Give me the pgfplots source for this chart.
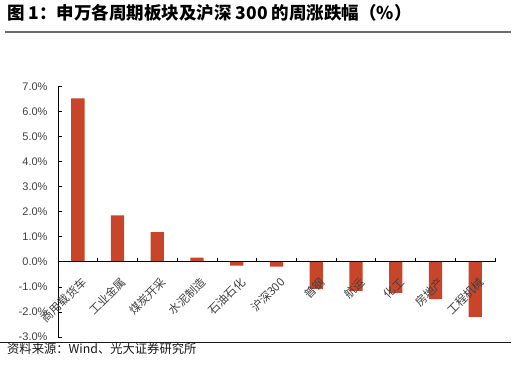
\documentclass[border=0pt]{standalone}
\usepackage{pgfplots}
\pgfplotsset{compat=1.18}
\usepackage{fontspec}
\setmainfont{Liberation Sans}
\newfontfamily\cjk{Noto Sans CJK SC}
\definecolor{barc}{HTML}{C8452A}
\definecolor{lblc}{HTML}{404040}
\tikzset{xlab/.style={xshift=6.5bp, yshift=-18bp, rotate=45, anchor=east, inner sep=0pt, font=\cjk\fontsize{11.5bp}{13bp}\selectfont, color=lblc}}
\begin{document}
\begin{tikzpicture}[x=1bp,y=1bp]
\path[use as bounding box] (0,0) rectangle (516,364);
\node[anchor=base west, inner sep=0pt, font=\cjk\bfseries\fontsize{17.5bp}{19bp}\selectfont] at (7,345) {图 1：申万各周期板块及沪深 300 的周涨跌幅（\%）};
\draw[line width=1.6bp, color=black!58] (5,332.3) -- (510.7,332.3);
\draw[line width=1bp, color=black!90] (0,21.3) -- (510.7,21.3);
\node[anchor=base west, inner sep=0pt, font=\cjk\fontsize{12.3bp}{14bp}\selectfont, color=black!90] at (7,10.5) {资料来源：Wind、光大证券研究所};
\begin{axis}[
  at={(58bp,27bp)}, anchor=south west,
  scale only axis, width=437bp, height=250.4bp,
  xmin=-0.5, xmax=10.5, ymin=-3, ymax=7,
  axis x line=none,
  axis y line=left,
  axis line style={-, line width=0.8bp, black},
  ytick={-3,-2,...,7},
  tick align=inside,
  major tick length=3.5bp,
  tick style={line width=0.8bp, black},
  /pgf/number format/assume math mode=true,
  yticklabel={\pgfmathprintnumber[fixed,fixed zerofill,precision=1]{\tick}\%},
  yticklabel style={font=\fontsize{11bp}{13bp}\selectfont, color=lblc, xshift=-7bp},
  clip=false,
]
\addplot[ybar, fill=barc, draw=none, bar width=13.3bp] coordinates {
 (0,6.53) (1,1.86) (2,1.19) (3,0.17) (4,-0.15) (5,-0.19)
 (6,-1.08) (7,-1.16) (8,-1.24) (9,-1.49) (10,-2.20)};
\draw[line width=0.8bp, black] (axis cs:-0.5,0) -- (axis cs:10.5,0);
\draw[line width=0.8bp, black]
  (axis cs:0.5,0) -- (axis cs:0.5,0.14) (axis cs:1.5,0) -- (axis cs:1.5,0.14)
  (axis cs:2.5,0) -- (axis cs:2.5,0.14) (axis cs:3.5,0) -- (axis cs:3.5,0.14)
  (axis cs:4.5,0) -- (axis cs:4.5,0.14) (axis cs:5.5,0) -- (axis cs:5.5,0.14)
  (axis cs:6.5,0) -- (axis cs:6.5,0.14) (axis cs:7.5,0) -- (axis cs:7.5,0.14)
  (axis cs:8.5,0) -- (axis cs:8.5,0.14) (axis cs:9.5,0) -- (axis cs:9.5,0.14)
  (axis cs:10.5,0) -- (axis cs:10.5,0.14);
\node[xlab] at (axis cs:0,0) {商用载货车};
\node[xlab] at (axis cs:1,0) {工业金属};
\node[xlab] at (axis cs:2,0) {煤炭开采};
\node[xlab] at (axis cs:3,0) {水泥制造};
\node[xlab] at (axis cs:4,0) {石油石化};
\node[xlab] at (axis cs:5,0) {沪深300};
\node[xlab] at (axis cs:6,0) {普钢};
\node[xlab] at (axis cs:7,0) {航运};
\node[xlab] at (axis cs:8,0) {化工};
\node[xlab] at (axis cs:9,0) {房地产};
\node[xlab] at (axis cs:10,0) {工程机械};
\end{axis}
\end{tikzpicture}
\end{document}
